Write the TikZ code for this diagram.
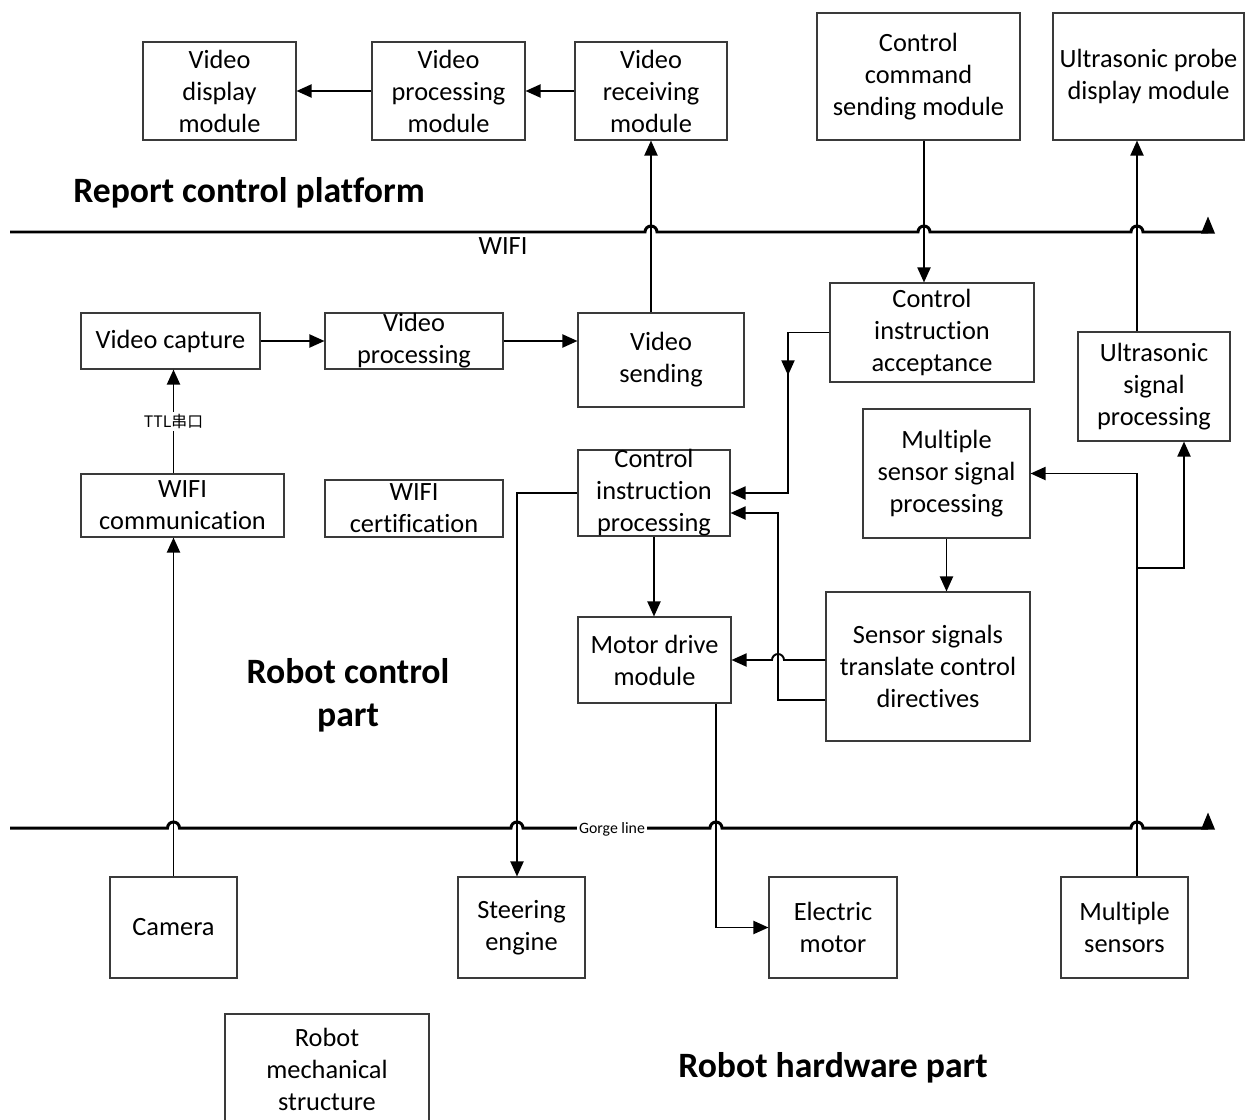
\documentclass[tikz,border=0pt]{standalone}
\usepackage{fontspec}
\setmainfont{Carlito}[Ligatures=NoCommon]
\newfontfamily\cjk{Noto Sans CJK SC}
\usetikzlibrary{arrows.meta,positioning,decorations.markings}
\definecolor{boxGray}{HTML}{3A3A3A}

\begin{document}
\begin{tikzpicture}[
    x=0.2mm,y=-0.2mm,
    box/.style={draw=boxGray,line width=0.6pt,align=center,inner xsep=2pt,inner ysep=-1pt,
      font=\fontsize{15}{18.2}\selectfont},
    title/.style={align=center,font=\fontsize{20.3}{24.5}\selectfont\bfseries},
    arrow/.style={-{Triangle[length=3mm,width=2.6mm]},line width=1.1pt},
    bus/.style={line width=1.7pt},
    tag/.style={fill=white,inner sep=1pt,font=\fontsize{9}{10}\selectfont},
    midtip/.style={decoration={markings,
      mark=at position #1 with {\arrow{Triangle[length=3mm,width=2.6mm]}}},
      postaction={decorate}}
  ]
    \useasboundingbox (0,0) rectangle (1254,1120);
    \clip (0,0) rectangle (1254,1120);

    % report control platform
    \node[box,minimum width=30.6mm,minimum height=19.6mm] (vdisp) at (219.5,91) {Video\\display\\module};
    \node[box,minimum width=30.6mm,minimum height=19.6mm] (vpm) at (448.5,91) {Video\\processing\\module};
    \node[box,minimum width=30.4mm,minimum height=19.6mm] (vrecv) at (651,91) {Video\\receiving\\module};
    \node[box,minimum width=40.6mm,minimum height=25.4mm] (cmd) at (918.5,76.5) {Control\\command\\sending module};
    \node[box,minimum width=38.2mm,minimum height=25.4mm] (probe) at (1148.5,76.5) {Ultrasonic probe\\display module};
    \node[title] (platform) at (249,193) {Report control platform};

    % robot control part
    \node[box,minimum width=35.8mm,minimum height=11.2mm] (vcap) at (170.5,341) {Video capture};
    \node[box,minimum width=35.6mm,minimum height=11.2mm] (vproc) at (414,341) {Video\\processing};
    \node[box,minimum width=33.2mm,minimum height=18.8mm] (vsend) at (661,360) {Video\\sending};
    \node[box,minimum width=40.8mm,minimum height=19.8mm] (acc) at (932,332.5) {Control\\instruction\\acceptance};
    \node[box,minimum width=30.4mm,minimum height=21.8mm] (usp) at (1154,386.5) {Ultrasonic\\signal\\processing};
    \node[box,minimum width=40.6mm,minimum height=12.6mm] (wcomm) at (182.5,505.5) {WIFI\\communication};
    \node[box,minimum width=35.6mm,minimum height=11.4mm] (wcert) at (414,508.5) {WIFI\\certification};
    \node[box,minimum width=30.4mm,minimum height=17.2mm,inner ysep=-2pt] (cip) at (654,493) {Control\\instruction\\processing};
    \node[box,minimum width=33.4mm,minimum height=25.8mm] (mssp) at (946.5,473.5) {Multiple\\sensor signal\\processing};
    \node[box,minimum width=30.6mm,minimum height=17.2mm] (mdrv) at (654.5,660) {Motor drive\\module};
    \node[box,minimum width=40.8mm,minimum height=29.8mm] (sst) at (928,666.5) {Sensor signals\\translate control\\directives};
    \node[title] (ctrlpart) at (348,695) {Robot control\\part};

    % robot hardware part
    \node[box,minimum width=25.4mm,minimum height=20.2mm] (camera) at (173.5,927.5) {Camera};
    \node[box,minimum width=25.4mm,minimum height=20.2mm] (steer) at (521.5,927.5) {Steering\\engine};
    \node[box,minimum width=25.6mm,minimum height=20.2mm] (emot) at (833,927.5) {Electric\\motor};
    \node[box,minimum width=25.4mm,minimum height=20.2mm] (msens) at (1124.5,927.5) {Multiple\\sensors};
    \node[box,minimum width=40.8mm,minimum height=22mm] (mech) at (327,1069) {Robot\\mechanical\\structure};
    \node[title] (hwpart) at (833,1068) {Robot hardware part};

    % line columns
    \coordinate (colK) at (924,0);
    \coordinate (colS) at (517,0);
    \coordinate (colM) at (716,0);
    \coordinate (colA) at (788,0);
    \coordinate (colB) at (778,0);
    \coordinate (colU) at (1137,0);
    \coordinate (colV) at (1184,0);
    \coordinate (br) at (1137,568);
    \coordinate (cipIn) at ([yshift=-4mm]cip.east);
    \coordinate (sstOut) at ([yshift=-6.7mm]sst.west);

    % WIFI line
    \coordinate (wifiL) at (10,232);
    \coordinate (wifiR) at (1208,232);
    \draw[bus] (wifiL) -- ([xshift=-1.2mm]vrecv.south |- wifiL)
      arc[start angle=180,end angle=0,radius=1.2mm] -- ([xshift=-1.2mm]colK |- wifiL)
      arc[start angle=180,end angle=0,radius=1.2mm] -- ([xshift=-1.2mm]colU |- wifiL)
      arc[start angle=180,end angle=0,radius=1.2mm] -- (wifiR);
    \fill (wifiR) ++(-1.4mm,-0.3mm) -- ++(2.8mm,0mm) -- ++(-1.4mm,3.4mm) -- cycle;
    \node[font=\fontsize{15}{18}\selectfont] (wifi) at (503,246) {WIFI};

    % Gorge line
    \coordinate (gorgeL) at (10,828);
    \coordinate (gorgeR) at (1208,828);
    \draw[bus] (gorgeL) -- ([xshift=-1.2mm]camera.north |- gorgeL)
      arc[start angle=180,end angle=0,radius=1.2mm] -- ([xshift=-1.2mm]colS |- gorgeL)
      arc[start angle=180,end angle=0,radius=1.2mm] -- ([xshift=-1.2mm]colM |- gorgeL)
      arc[start angle=180,end angle=0,radius=1.2mm] -- ([xshift=-1.2mm]colU |- gorgeL)
      arc[start angle=180,end angle=0,radius=1.2mm] -- (gorgeR);
    \fill (gorgeR) ++(-1.4mm,-0.3mm) -- ++(2.8mm,0mm) -- ++(-1.4mm,3.4mm) -- cycle;
    \node[tag] (gorge) at (612,829) {Gorge line};

    % video path
    \draw[arrow] (vrecv.west) -- (vpm.east);
    \draw[arrow] (vpm.west) -- (vdisp.east);
    \draw[arrow] (vcap.east) -- (vproc.west);
    \draw[arrow] (vproc.east) -- (vproc.east -| vsend.west);
    \draw[arrow] (vrecv.south |- vsend.north) -- (vrecv.south);
    \draw[arrow] (camera.north) -- (camera.north |- wcomm.south);
    \draw[arrow] (camera.north |- wcomm.north) --
      node[tag] {\cjk TTL串口} (camera.north |- vcap.south);

    % control path
    \draw[arrow] (cmd.south -| colK) -- (acc.north -| colK);
    \draw[arrow,midtip=0.325] (acc.west) -| (colA |- cip.east) -- (cip.east);
    \draw[arrow] (cip.south) -- (cip.south |- mdrv.north);
    \draw[arrow] (cip.west) -| (steer.north -| colS);
    \draw[arrow] (mdrv.south -| colM) |- (emot.west);
    \draw[arrow] (sst.west |- mdrv.east) -- ([xshift=1.2mm]colB |- mdrv.east)
      arc[start angle=0,end angle=180,radius=1.2mm] -- (mdrv.east);
    \draw[arrow] (sstOut) -| (colB |- cipIn) -- (cipIn);

    % sensor path
    \draw[arrow] (mssp.south) -- (mssp.south |- sst.north);
    \draw[arrow] (msens.north -| colU) |- (mssp.east);
    \draw[arrow] (br) -| (colV |- usp.south);
    \draw[arrow] (usp.north -| colU) -- (probe.south -| colU);
  \end{tikzpicture}
\end{document}
